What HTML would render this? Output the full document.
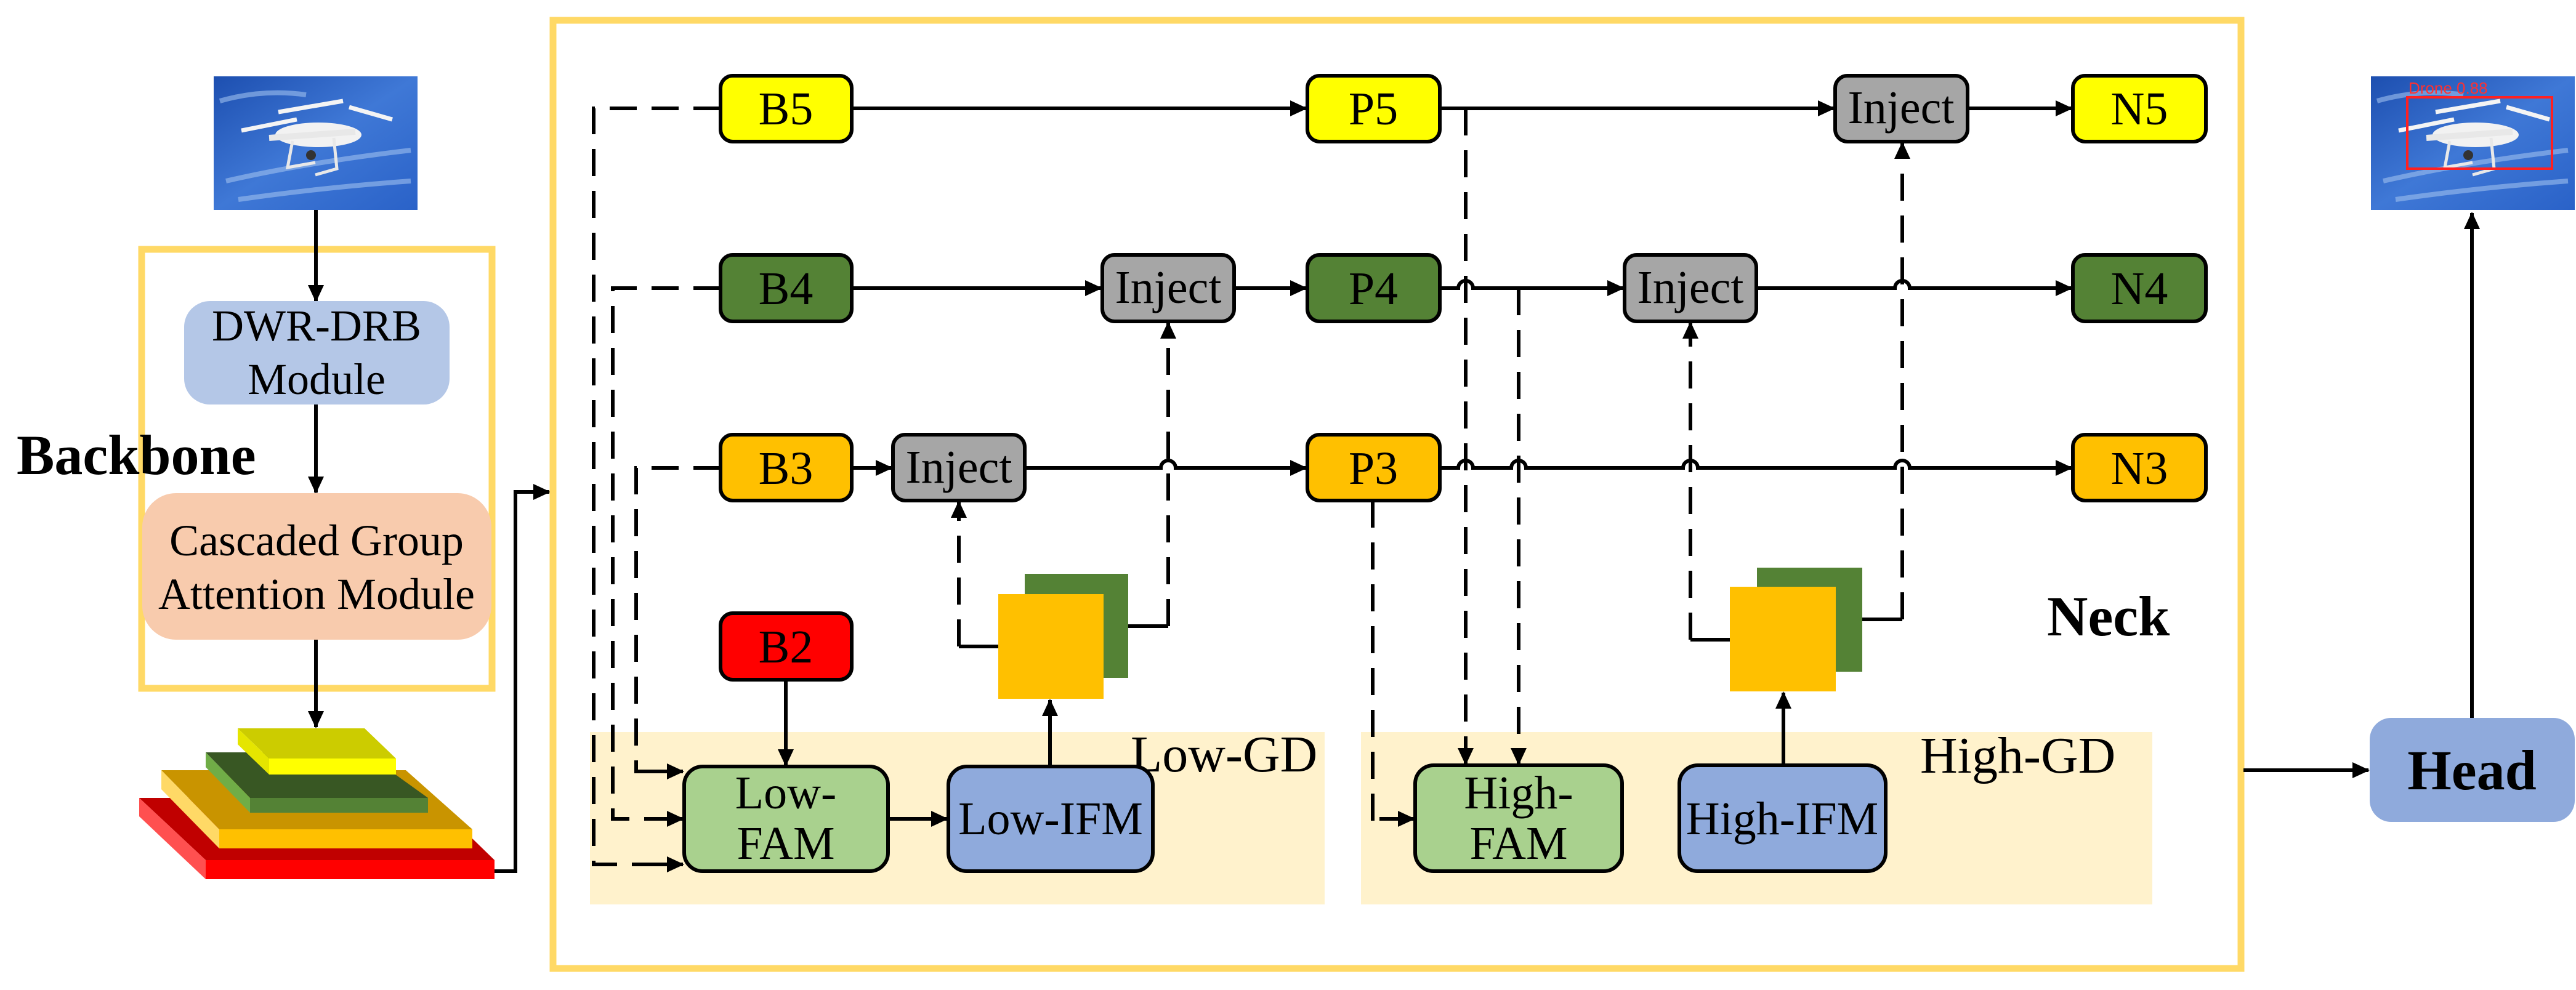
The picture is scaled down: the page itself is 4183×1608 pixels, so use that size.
<!DOCTYPE html>
<html><head><meta charset="utf-8"><style>
html,body{margin:0;padding:0;background:#fff}
svg{display:block}
svg text{font-family:"Liberation Serif","Times New Roman",serif !important;fill:#000}
</style></head><body>
<svg width="4183" height="1608" viewBox="0 0 4183 1608" xmlns="http://www.w3.org/2000/svg" font-family="Liberation Serif, serif">
<defs>
<marker id="a" markerUnits="userSpaceOnUse" markerWidth="28" markerHeight="26" refX="26" refY="13" orient="auto"><path d="M0,0 L28,13 L0,26 z" fill="#000"/></marker>
<linearGradient id="sky" x1="0" y1="0" x2="1" y2="1"><stop offset="0" stop-color="#1d4fb0"/><stop offset="0.5" stop-color="#3f78d6"/><stop offset="1" stop-color="#2a62c8"/></linearGradient>
<g id="drone">
<rect x="0" y="0" width="331" height="217" fill="url(#sky)"/>
<path d="M10,40 Q80,20 150,30 M20,170 Q150,140 320,120 M40,200 Q180,180 320,170" stroke="#9fc0ee" stroke-width="8" fill="none" opacity="0.6"/>
<path d="M45,88 L135,70 M105,58 L210,40 M220,50 L290,70" stroke="#f4f4f4" stroke-width="7" fill="none"/>
<ellipse cx="170" cy="95" rx="70" ry="20" fill="#f2f2f2"/>
<path d="M90,100 L230,90" stroke="#e8e8e8" stroke-width="10"/>
<path d="M128,105 L120,148 L165,140 M195,100 L200,150 L165,160" stroke="#e8e8e8" stroke-width="5" fill="none"/>
<circle cx="158" cy="128" r="8" fill="#333"/>
</g>
</defs>

<use href="#drone" x="347" y="124"/>
<rect x="230" y="405" width="569" height="713" fill="none" stroke="#FFD966" stroke-width="11"/>
<line x1="513" y1="341" x2="513" y2="489" stroke="#000" stroke-width="6" marker-end="url(#a)"/>
<rect x="299" y="489" width="431" height="168" rx="42" fill="#B4C7E7"/>
<text x="514" y="553" font-size="72" text-anchor="middle" font-family="Liberation Serif, serif">DWR-DRB</text>
<text x="514" y="640" font-size="72" text-anchor="middle" font-family="Liberation Serif, serif">Module</text>
<line x1="513" y1="657" x2="513" y2="800" stroke="#000" stroke-width="6" marker-end="url(#a)"/>
<rect x="231" y="801" width="567" height="238" rx="55" fill="#F8CBAD"/>
<text x="514" y="902" font-size="72" text-anchor="middle" font-family="Liberation Serif, serif">Cascaded Group</text>
<text x="514" y="989" font-size="72" text-anchor="middle" font-family="Liberation Serif, serif">Attention Module</text>
<line x1="513" y1="1039" x2="513" y2="1181" stroke="#000" stroke-width="6" marker-end="url(#a)"/>
<text x="27" y="770" font-size="92" font-weight="bold" font-family="Liberation Serif, serif">Backbone</text>

<polygon points="226,1296 699,1296 803,1397 334,1397" fill="#C00000"/>
<rect x="334" y="1397" width="469" height="31" fill="#FF0000"/>
<polygon points="226,1296 334,1397 334,1428 226,1326" fill="#FF5050"/>
<polygon points="262,1251 659,1251 767,1347 356,1347" fill="#C99400"/>
<rect x="356" y="1347" width="411" height="31" fill="#FFC000"/>
<polygon points="262,1251 356,1347 356,1378 262,1282" fill="#FFD966"/>
<polygon points="334,1222 592,1222 695,1296 406,1296" fill="#385723"/>
<rect x="406" y="1296" width="289" height="24" fill="#548235"/>
<polygon points="334,1222 406,1296 406,1320 334,1246" fill="#70AD47"/>
<polygon points="386,1183 592,1183 643,1232 437,1232" fill="#CCCC00"/>
<rect x="437" y="1232" width="206" height="26" fill="#FFFF00"/>
<polygon points="386,1183 437,1232 437,1258 386,1209" fill="#E5E500"/>
<path d="M803,1415 H837 V799 H892" fill="none" stroke="#000" stroke-width="6" marker-end="url(#a)"/>

<rect x="898" y="33" width="2741" height="1540" fill="none" stroke="#FFD966" stroke-width="11"/>
<rect x="958" y="1189" width="1193" height="280" fill="#FFF2CC"/>
<rect x="2210" y="1189" width="1285" height="280" fill="#FFF2CC"/>
<text x="1836" y="1253" font-size="84" font-family="Liberation Serif, serif">Low-GD</text>
<text x="3118" y="1255" font-size="84" font-family="Liberation Serif, serif">High-GD</text>
<text x="3324" y="1032" font-size="92" font-weight="bold" font-family="Liberation Serif, serif">Neck</text>

<g fill="none" stroke="#000" stroke-width="6">
<path d="M1383,176 H2121" marker-end="url(#a)"/>
<path d="M2338,176 H2978" marker-end="url(#a)"/>
<path d="M3195,176 H3364" marker-end="url(#a)"/>
<path d="M1383,468 H1788" marker-end="url(#a)"/>
<path d="M2004,468 H2121" marker-end="url(#a)"/>
<path d="M2338,468 H2368 a12,12 0 0 1 24,0 H2636" marker-end="url(#a)"/>
<path d="M2852,468 H3077 a12,12 0 0 1 24,0 H3364" marker-end="url(#a)"/>
<path d="M1383,760 H1448" marker-end="url(#a)"/>
<path d="M1664,760 H1885 a12,12 0 0 1 24,0 H2121" marker-end="url(#a)"/>
<path d="M2338,760 H2368 a12,12 0 0 1 24,0 H2454 a12,12 0 0 1 24,0 H2733 a12,12 0 0 1 24,0 H3077 a12,12 0 0 1 24,0 H3364" marker-end="url(#a)"/>
<path d="M1276,1104 V1243" marker-end="url(#a)"/>
<path d="M1442,1330 H1538" marker-end="url(#a)"/>
<path d="M1705,1245 V1137" marker-end="url(#a)"/>
<path d="M2896,1243 V1125" marker-end="url(#a)"/>
<path d="M1046,1404 H1109" marker-end="url(#a)"/>
<path d="M1046,1330 H1109" marker-end="url(#a)"/>
<path d="M1046,1253 H1109" marker-end="url(#a)"/>
<path d="M2240,1330 H2296" marker-end="url(#a)"/>
<path d="M1621,1050 H1557"/>
<path d="M1832,1017 H1897"/>
<path d="M2809,1039 H2745"/>
<path d="M3024,1006 H3089"/>
<path d="M3643,1251 H3846" marker-end="url(#a)"/>
<path d="M4014,1166 V346" marker-end="url(#a)"/>
</g>
<g fill="none" stroke="#000" stroke-width="6" stroke-dasharray="44,24">
<path d="M1170,176 H964 V1404 H1046"/>
<path d="M1170,468 H995 V1330 H1046"/>
<path d="M1170,760 H1033 V1253 H1046"/>
<path d="M1557,1050 V815" marker-end="url(#a)"/>
<path d="M1897,1017 V524" marker-end="url(#a)"/>
<path d="M2380,176 V1241" marker-end="url(#a)"/>
<path d="M2466,468 V1241" marker-end="url(#a)"/>
<path d="M2229,813 V1330 H2240"/>
<path d="M2745,1039 V524" marker-end="url(#a)"/>
<path d="M3089,1006 V232" marker-end="url(#a)"/>
</g>

<g stroke="#000" stroke-width="6">
<rect x="1170" y="123" width="213" height="107" rx="20" fill="#FFFF00"/>
<rect x="1170" y="414" width="213" height="108" rx="20" fill="#548235"/>
<rect x="1170" y="706" width="213" height="107" rx="20" fill="#FFC000"/>
<rect x="1170" y="996" width="213" height="108" rx="20" fill="#FF0000"/>
<rect x="1450" y="706" width="214" height="107" rx="20" fill="#A6A6A6"/>
<rect x="1790" y="414" width="214" height="108" rx="20" fill="#A6A6A6"/>
<rect x="2123" y="123" width="215" height="107" rx="20" fill="#FFFF00"/>
<rect x="2123" y="414" width="215" height="108" rx="20" fill="#548235"/>
<rect x="2123" y="706" width="215" height="107" rx="20" fill="#FFC000"/>
<rect x="2638" y="414" width="214" height="108" rx="20" fill="#A6A6A6"/>
<rect x="2980" y="123" width="215" height="107" rx="20" fill="#A6A6A6"/>
<rect x="3366" y="123" width="216" height="107" rx="20" fill="#FFFF00"/>
<rect x="3366" y="414" width="216" height="108" rx="20" fill="#548235"/>
<rect x="3366" y="706" width="216" height="107" rx="20" fill="#FFC000"/>
<rect x="1111" y="1245" width="331" height="170" rx="30" fill="#A9D18E"/>
<rect x="1540" y="1245" width="332" height="170" rx="30" fill="#8FAADC"/>
<rect x="2298" y="1243" width="336" height="172" rx="30" fill="#A9D18E"/>
<rect x="2727" y="1243" width="335" height="172" rx="30" fill="#8FAADC"/>
</g>
<g font-size="76" text-anchor="middle" font-family="Liberation Serif, serif">
<text x="1276" y="202">B5</text>
<text x="1276" y="494">B4</text>
<text x="1276" y="786">B3</text>
<text x="1276" y="1076">B2</text>
<text x="1557" y="784">Inject</text>
<text x="1897" y="492">Inject</text>
<text x="2230" y="202">P5</text>
<text x="2230" y="494">P4</text>
<text x="2230" y="786">P3</text>
<text x="2745" y="492">Inject</text>
<text x="3087" y="200">Inject</text>
<text x="3474" y="202">N5</text>
<text x="3474" y="494">N4</text>
<text x="3474" y="786">N3</text>
<text x="1276" y="1313">Low-</text>
<text x="1276" y="1395">FAM</text>
<text x="1706" y="1355">Low-IFM</text>
<text x="2466" y="1313">High-</text>
<text x="2466" y="1395">FAM</text>
<text x="2894" y="1355">High-IFM</text>
</g>
<rect x="1664" y="932" width="168" height="169" fill="#548235"/>
<rect x="1621" y="965" width="171" height="170" fill="#FFC000"/>
<rect x="2853" y="922" width="171" height="169" fill="#548235"/>
<rect x="2809" y="953" width="172" height="170" fill="#FFC000"/>

<rect x="3848" y="1166" width="333" height="169" rx="35" fill="#8FAADC"/>
<text x="4014" y="1282" font-size="92" font-weight="bold" text-anchor="middle" font-family="Liberation Serif, serif">Head</text>
<use href="#drone" x="3850" y="124"/>
<rect x="3909" y="158" width="235" height="116" fill="none" stroke="#ff2020" stroke-width="4"/>
<text x="3911" y="152" font-size="26" font-family="Liberation Sans, sans-serif" style="font-family:'Liberation Sans',sans-serif !important;fill:#ff3030">Drone 0.88</text>
</svg>
</body></html>
